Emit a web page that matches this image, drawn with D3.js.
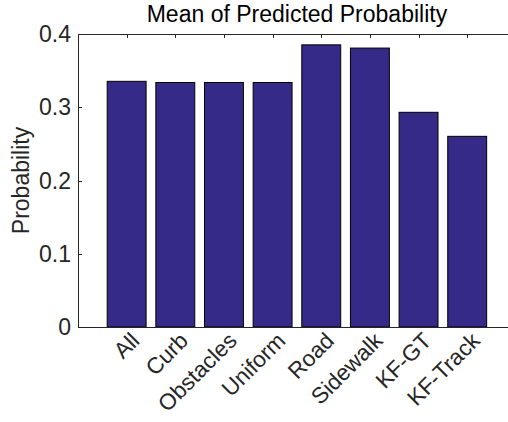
<!DOCTYPE html>
<html><head><meta charset="utf-8">
<script src="https://cdn.jsdelivr.net/npm/d3@7"></script>
<style>body{margin:0;background:#fff}svg{display:block}text{font-family:"Liberation Sans",Arial,Helvetica,sans-serif;fill:#000}</style>
</head><body><svg id="c" width="508" height="422"></svg>
<script>
const categories = ["All","Curb","Obstacles","Uniform","Road","Sidewalk","KF-GT","KF-Track"];
const values = [0.3354,0.3338,0.3338,0.3338,0.3852,0.3808,0.2931,0.2603];
const yTicks = [0,0.1,0.2,0.3,0.4];
const yTickLabels = ["0","0.1","0.2","0.3","0.4"];
const title = "Mean of Predicted Probability";
const yLabel = "Probability";

const svg = d3.select("#c");
const L = 78, T = 34, B = 327, unit = 48.65, FS = 23;
const x = d3.scaleLinear().domain([0, categories.length + 1]).range([L, L + unit * (categories.length + 1)]);
const y = d3.scaleLinear().domain([0, 0.4]).range([B, T]);
const axisColor = "#262626";
const bw = x(0.8) - x(0);

svg.append("g").selectAll("rect").data(values).join("rect")
  .attr("x", (d,i) => x(i+1) - bw/2)
  .attr("y", d => y(d))
  .attr("width", bw)
  .attr("height", d => y(0) - y(d))
  .attr("fill", "#352a87")
  .attr("stroke", "#000")
  .attr("stroke-width", 1);

const g = svg.append("g").attr("stroke", axisColor).attr("fill","none").attr("stroke-width",1);
g.append("line").attr("x1", L).attr("x2", x(categories.length+1)).attr("y1", B+0.5).attr("y2", B+0.5);
g.append("line").attr("x1", L).attr("x2", x(categories.length+1)).attr("y1", T+0.5).attr("y2", T+0.5);
g.append("line").attr("x1", L+0.5).attr("x2", L+0.5).attr("y1", T).attr("y2", B+1);
g.append("line").attr("x1", x(categories.length+1)-0.5).attr("x2", x(categories.length+1)-0.5).attr("y1", T).attr("y2", B+1);

yTicks.forEach((t,i) => {
  const yy = Math.round(y(t)) + 0.5;
  g.append("line").attr("x1", L).attr("x2", L+4).attr("y1", yy).attr("y2", yy);
  svg.append("text").attr("x", L-7).attr("y", y(t)).attr("dy","0.35em")
    .attr("text-anchor","end").attr("font-size", FS).style("fill", axisColor).text(yTickLabels[i]);
});
categories.forEach((c,i) => {
  const xx = Math.round(x(i+1)) + 0.5;
  g.append("line").attr("x1", xx).attr("x2", xx).attr("y1", T).attr("y2", T+4);
  svg.append("text")
    .attr("transform", `translate(${x(i+1)+3},${B+4}) rotate(-45)`)
    .attr("text-anchor","end").attr("dy","0.7em").attr("font-size", 22.5)
    .style("fill", axisColor).text(c);
});

svg.append("text").attr("x", (L + x(categories.length+1))/2).attr("y", 22)
  .attr("text-anchor","middle").attr("font-size", FS).text(title);
svg.append("text").attr("transform", `translate(29,${(T+B)/2}) rotate(-90)`)
  .attr("text-anchor","middle").attr("font-size", FS).style("fill", axisColor).text(yLabel);
</script></body></html>
